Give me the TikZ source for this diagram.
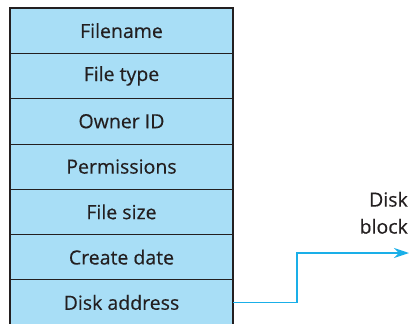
\documentclass[tikz,border=0pt]{standalone}
\usepackage{fontspec}
\setmainfont[FakeBold=0.35]{Open Sans}
\usetikzlibrary{arrows.meta}
\definecolor{cellblue}{HTML}{A8DEF6}
\definecolor{linkblue}{HTML}{1AAFE8}
\definecolor{txt}{HTML}{231F20}
\begin{document}
\begin{tikzpicture}[x=1pt,y=-1pt,
  cell/.style={draw=txt,line width=0.8pt,fill=cellblue,minimum width=223pt,minimum height=45.3pt,inner sep=0pt,outer sep=0pt,anchor=north west,text=txt,font=\fontsize{19.5}{27}\selectfont},
  link/.style={draw=linkblue,line width=1.4pt,-{Stealth[length=15pt,width=10pt,inset=5pt]}},
  lbl/.style={text=txt,font=\fontsize{19.5}{27}\selectfont,align=right,inner sep=0pt}]
\useasboundingbox (0,0) rectangle (410,324);
\begin{scope}
\clip (0,0) rectangle (410,324);
\node[cell] (c1) at (10,8) {Filename};
\node[cell] (c2) at (c1.south west) {File type};
\node[cell] (c3) at (c2.south west) {Owner ID};
\node[cell] (c4) at (c3.south west) {Permissions};
\node[cell] (c5) at (c4.south west) {File size};
\node[cell] (c6) at (c5.south west) {Create date};
\node[cell] (c7) at (c6.south west) {Disk address};
\draw[txt,line width=2pt] (10,340) -- (10,8) -- (233,8) -- (233,340);
\end{scope}
\coordinate (bend) at (297,0);
\coordinate (tip) at (409,253);
\draw[link] (c7.east) -- (c7.east -| bend) |- (tip);
\node[lbl,anchor=south east] (db) at (408,234) {Disk\\block};
\end{tikzpicture}
\end{document}
